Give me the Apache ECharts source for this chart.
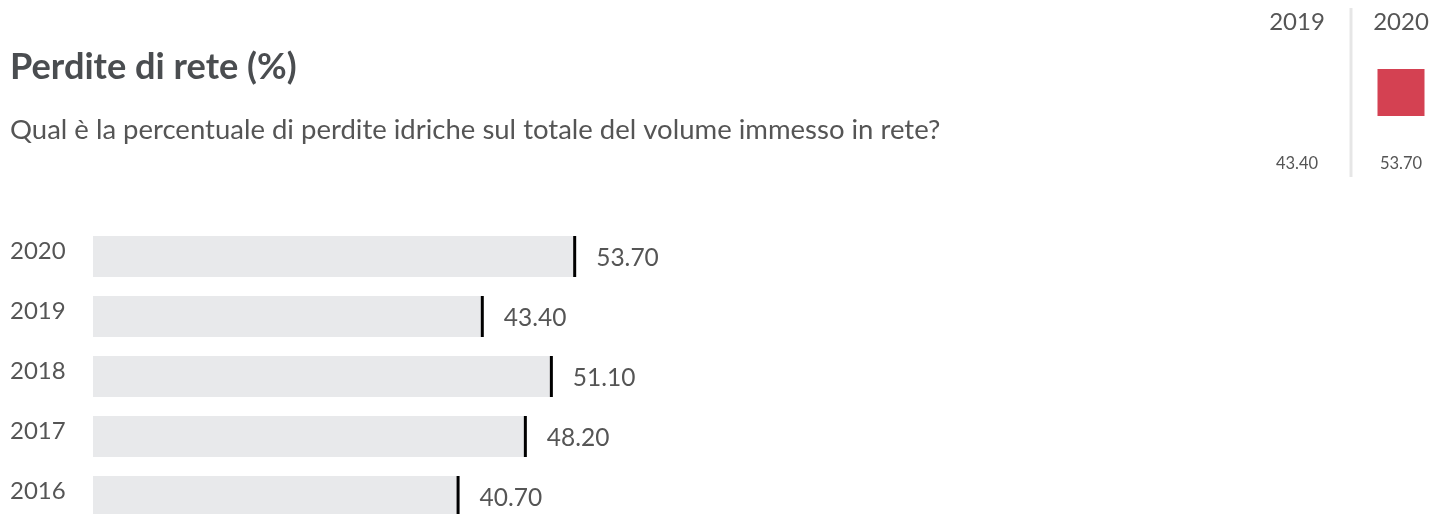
<!DOCTYPE html>
<html><head><meta charset="utf-8">
<script src="https://cdn.jsdelivr.net/npm/echarts@6/dist/echarts.min.js"></script>
<style>html,body{margin:0;padding:0;background:#fff}#c{width:1447px;height:514px}</style>
</head><body><div id="c"></div>
<script>
var years = ['2020', '2019', '2018', '2017', '2016'];
var losses = [53.70, 43.40, 51.10, 48.20, 40.70];
var miniYears = ['2019', '2020'];
var miniValues = [43.40, 53.70];
var miniMarks = [null, 53.70];

var FONT = 'Lato';
var chart = echarts.init(document.getElementById('c'), null, {renderer: 'canvas'});
chart.setOption({
  backgroundColor: '#fff',
  animation: false,
  textStyle: {fontFamily: FONT},
  title: [{
    text: 'Perdite di rete (%)', left: 5, top: 44,
    textStyle: {fontFamily: FONT, fontSize: 36.2, fontWeight: 'bold', color: '#4a4d50'}
  }, {
    text: 'Qual è la percentuale di perdite idriche sul totale del volume immesso in rete?', left: 5, top: 111,
    textStyle: {fontFamily: FONT, fontSize: 27.5, fontWeight: 'normal', color: '#555'}
  }],
  grid: [
    {left: 93, width: 897, top: 226.5, height: 300, outerBoundsMode: 'none', containLabel: false},
    {left: 1245, width: 208, top: 46, height: 93, outerBoundsMode: 'none', containLabel: false}
  ],
  xAxis: [
    {gridIndex: 0, type: 'value', min: 0, max: 100, show: false},
    {gridIndex: 1, type: 'category', data: miniYears, position: 'top',
     axisLine: {show: false}, axisTick: {show: false},
     axisLabel: {fontFamily: FONT, fontSize: 24, color: '#555', margin: 12}},
    {gridIndex: 1, type: 'category', data: miniValues.map(function (v) { return v.toFixed(2); }), position: 'bottom',
     axisLine: {show: false}, axisTick: {show: false},
     axisLabel: {fontFamily: FONT, fontSize: 16.5, color: '#555', margin: 16}}
  ],
  yAxis: [
    {gridIndex: 0, type: 'category', data: years, inverse: true,
     axisLine: {show: false}, axisTick: {show: false},
     axisLabel: {fontFamily: FONT, fontSize: 24, color: '#555', align: 'left', margin: 83,
       verticalAlign: 'bottom', lineHeight: 10}},
    {gridIndex: 1, type: 'category', data: ['v'], show: false}
  ],
  series: [
    {type: 'bar', xAxisIndex: 0, yAxisIndex: 0, data: losses, barWidth: 41,
     itemStyle: {color: '#e8e9eb'}, silent: true},
    {type: 'scatter', xAxisIndex: 0, yAxisIndex: 0, data: losses, symbol: 'rect', symbolSize: [3, 41],
     itemStyle: {color: '#000', opacity: 1},
     label: {show: true, position: 'right', distance: 20, fontFamily: FONT, fontSize: 24.5, color: '#555',
       offset: [0, 1.5],
       formatter: function (p) { return p.value.toFixed(2); }}},
    {type: 'scatter', xAxisIndex: 1, yAxisIndex: 1,
     data: miniMarks.map(function (v, i) { return v == null ? null : [miniYears[i], 'v']; }),
     symbol: 'rect', symbolSize: 47, itemStyle: {color: '#d44152', opacity: 1}}
  ],
  graphic: [{
    type: 'line', shape: {x1: 1351, y1: 8, x2: 1351, y2: 177},
    style: {stroke: '#e6e6e6', lineWidth: 3}
  }]
});
</script></body></html>
